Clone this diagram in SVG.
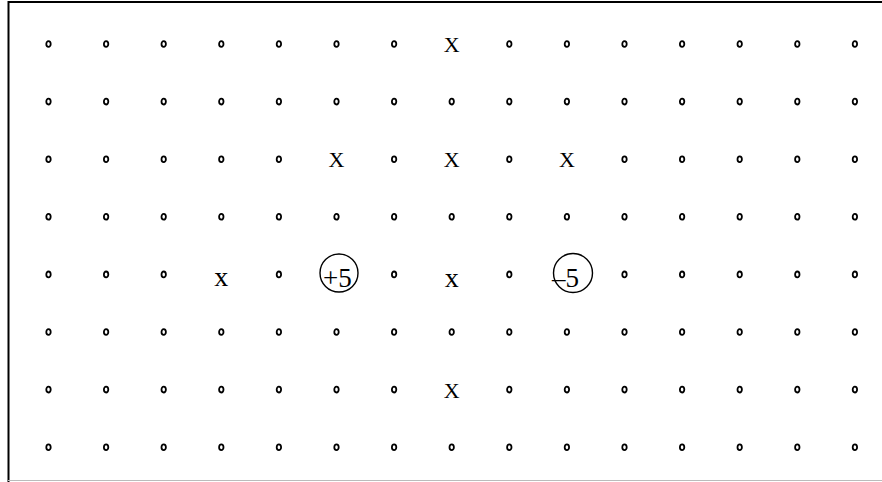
<svg xmlns="http://www.w3.org/2000/svg" width="882" height="482" viewBox="0 0 882 482">
<defs>
<style>
.d{fill:none;stroke:#000;stroke-width:1.8}
.X{font-family:"Liberation Serif",serif;font-size:22px;fill:#000;text-anchor:middle}
.x{font-family:"Liberation Serif",serif;font-size:28px;fill:#000;text-anchor:middle}
.n{font-family:"Liberation Serif",serif;font-size:27px;fill:#000}
.c{fill:none;stroke:#000;stroke-width:1.4}
</style>
<ellipse id="o" class="d" cx="0" cy="0" rx="2.2" ry="2.9"/>
</defs>
<rect width="882" height="482" fill="#fff"/>
<g id="frame">
<line x1="8.5" y1="1" x2="8.5" y2="482" stroke="#000" stroke-width="2"/>
<line x1="8" y1="2" x2="882" y2="2" stroke="#000" stroke-width="2"/>
<line x1="8" y1="480.5" x2="882" y2="480.5" stroke="#bbb" stroke-width="1"/>
</g>
<g id="dots">
<use href="#o" x="48.5" y="44"/><use href="#o" x="106.1" y="44"/><use href="#o" x="163.7" y="44"/><use href="#o" x="221.3" y="44"/><use href="#o" x="278.9" y="44"/><use href="#o" x="336.5" y="44"/><use href="#o" x="394.1" y="44"/><use href="#o" x="509.3" y="44"/><use href="#o" x="566.9" y="44"/><use href="#o" x="624.5" y="44"/><use href="#o" x="682.1" y="44"/><use href="#o" x="739.7" y="44"/><use href="#o" x="797.3" y="44"/><use href="#o" x="854.9" y="44"/>
<use href="#o" x="48.5" y="101.6"/><use href="#o" x="106.1" y="101.6"/><use href="#o" x="163.7" y="101.6"/><use href="#o" x="221.3" y="101.6"/><use href="#o" x="278.9" y="101.6"/><use href="#o" x="336.5" y="101.6"/><use href="#o" x="394.1" y="101.6"/><use href="#o" x="451.7" y="101.6"/><use href="#o" x="509.3" y="101.6"/><use href="#o" x="566.9" y="101.6"/><use href="#o" x="624.5" y="101.6"/><use href="#o" x="682.1" y="101.6"/><use href="#o" x="739.7" y="101.6"/><use href="#o" x="797.3" y="101.6"/><use href="#o" x="854.9" y="101.6"/>
<use href="#o" x="48.5" y="159.2"/><use href="#o" x="106.1" y="159.2"/><use href="#o" x="163.7" y="159.2"/><use href="#o" x="221.3" y="159.2"/><use href="#o" x="278.9" y="159.2"/><use href="#o" x="394.1" y="159.2"/><use href="#o" x="509.3" y="159.2"/><use href="#o" x="624.5" y="159.2"/><use href="#o" x="682.1" y="159.2"/><use href="#o" x="739.7" y="159.2"/><use href="#o" x="797.3" y="159.2"/><use href="#o" x="854.9" y="159.2"/>
<use href="#o" x="48.5" y="216.8"/><use href="#o" x="106.1" y="216.8"/><use href="#o" x="163.7" y="216.8"/><use href="#o" x="221.3" y="216.8"/><use href="#o" x="278.9" y="216.8"/><use href="#o" x="336.5" y="216.8"/><use href="#o" x="394.1" y="216.8"/><use href="#o" x="451.7" y="216.8"/><use href="#o" x="509.3" y="216.8"/><use href="#o" x="566.9" y="216.8"/><use href="#o" x="624.5" y="216.8"/><use href="#o" x="682.1" y="216.8"/><use href="#o" x="739.7" y="216.8"/><use href="#o" x="797.3" y="216.8"/><use href="#o" x="854.9" y="216.8"/>
<use href="#o" x="48.5" y="274.4"/><use href="#o" x="106.1" y="274.4"/><use href="#o" x="163.7" y="274.4"/><use href="#o" x="278.9" y="274.4"/><use href="#o" x="394.1" y="274.4"/><use href="#o" x="509.3" y="274.4"/><use href="#o" x="624.5" y="274.4"/><use href="#o" x="682.1" y="274.4"/><use href="#o" x="739.7" y="274.4"/><use href="#o" x="797.3" y="274.4"/><use href="#o" x="854.9" y="274.4"/>
<use href="#o" x="48.5" y="332"/><use href="#o" x="106.1" y="332"/><use href="#o" x="163.7" y="332"/><use href="#o" x="221.3" y="332"/><use href="#o" x="278.9" y="332"/><use href="#o" x="336.5" y="332"/><use href="#o" x="394.1" y="332"/><use href="#o" x="451.7" y="332"/><use href="#o" x="509.3" y="332"/><use href="#o" x="566.9" y="332"/><use href="#o" x="624.5" y="332"/><use href="#o" x="682.1" y="332"/><use href="#o" x="739.7" y="332"/><use href="#o" x="797.3" y="332"/><use href="#o" x="854.9" y="332"/>
<use href="#o" x="48.5" y="389.6"/><use href="#o" x="106.1" y="389.6"/><use href="#o" x="163.7" y="389.6"/><use href="#o" x="221.3" y="389.6"/><use href="#o" x="278.9" y="389.6"/><use href="#o" x="336.5" y="389.6"/><use href="#o" x="394.1" y="389.6"/><use href="#o" x="509.3" y="389.6"/><use href="#o" x="566.9" y="389.6"/><use href="#o" x="624.5" y="389.6"/><use href="#o" x="682.1" y="389.6"/><use href="#o" x="739.7" y="389.6"/><use href="#o" x="797.3" y="389.6"/><use href="#o" x="854.9" y="389.6"/>
<use href="#o" x="48.5" y="447.2"/><use href="#o" x="106.1" y="447.2"/><use href="#o" x="163.7" y="447.2"/><use href="#o" x="221.3" y="447.2"/><use href="#o" x="278.9" y="447.2"/><use href="#o" x="336.5" y="447.2"/><use href="#o" x="394.1" y="447.2"/><use href="#o" x="451.7" y="447.2"/><use href="#o" x="509.3" y="447.2"/><use href="#o" x="566.9" y="447.2"/><use href="#o" x="624.5" y="447.2"/><use href="#o" x="682.1" y="447.2"/><use href="#o" x="739.7" y="447.2"/><use href="#o" x="797.3" y="447.2"/><use href="#o" x="854.9" y="447.2"/>
</g>
<g id="marks">
<text class="X" x="451.7" y="52">X</text>
<text class="X" x="336.5" y="167.2">X</text>
<text class="X" x="451.7" y="167.2">X</text>
<text class="X" x="566.9" y="167.2">X</text>
<text class="x" x="221.3" y="285.5">x</text>
<text class="x" x="451.7" y="287">x</text>
<text class="X" x="451.7" y="397.6">X</text>
</g>
<g id="plus5">
<circle class="c" cx="339" cy="273" r="19"/>
<text class="n" x="323" y="286.5">+5</text>
</g>
<g id="minus5">
<circle class="c" cx="573" cy="273" r="19.5"/>
<text class="n" x="552" y="287">–5</text>
</g>
</svg>
